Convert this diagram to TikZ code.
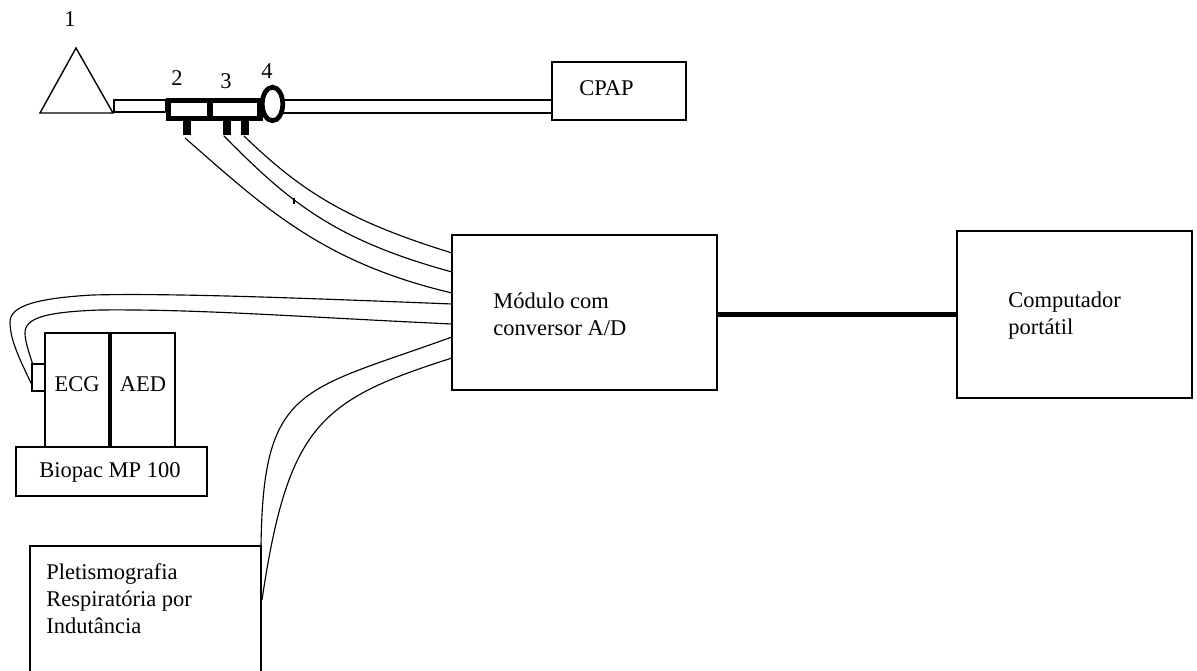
\documentclass[tikz,border=0pt]{standalone}
\usepackage{xcolor}
\usepackage{fontspec}
\setmainfont{Liberation Serif}
\usetikzlibrary{positioning,shapes,calc}

\tikzset{
    caixa/.style={draw, line width=0.9pt, anchor=north west, inner sep=0pt, outer sep=0pt},
    tubo/.style={draw, line width=0.9pt, anchor=north west, inner sep=0pt, outer sep=0pt, fill=white},
    sensor/.style={draw, line width=2.9pt, anchor=north west, inner sep=0pt, outer sep=0pt, fill=white},
    haste/.style={fill=black, anchor=north west, inner sep=0pt, outer sep=0pt},
    fio/.style={line width=0.65pt},
    rotulo/.style={font=\fontsize{12.8}{15.4}\selectfont, align=left, inner sep=0pt}
}

\begin{document}
\begin{tikzpicture}[x=0.02cm, y=-0.02cm]
    \clip (0,0) rectangle (1197,671);
    \useasboundingbox (0,0) rectangle (1197,671);

    % Mask and tube
    \draw[line width=0.8pt, line join=miter] (76,48) -- (113,113) -- (40,113) -- cycle;
    \node[tubo, minimum width=1.04cm, minimum height=0.24cm] (tubo1) at (114,100) {};
    \node[tubo, minimum width=5.4cm, minimum height=0.26cm] (tubo2) at (282,100) {};
    \node[caixa, minimum width=2.68cm, minimum height=1.16cm] (cpap) at (552,62) {};

    % Sensors 2, 3, 4
    \node[sensor, minimum width=0.86cm, minimum height=0.36cm] (sensor2) at (168.5,100.5) {};
    \node[sensor, minimum width=1.0cm, minimum height=0.36cm] (sensor3) at (210,100.5) {};
    \node[ellipse, draw, line width=2.7pt, fill=white, inner sep=0pt, minimum width=0.41cm, minimum height=0.67cm] (anel) at (272.5,104) {};
    \node[haste, minimum width=0.16cm, minimum height=0.32cm] (haste2) at (183,119) {};
    \node[haste, minimum width=0.15cm, minimum height=0.32cm] (haste3) at (223,119) {};
    \node[haste, minimum width=0.16cm, minimum height=0.32cm] (haste4) at (241,119) {};

    % Boxes
    \node[caixa, minimum width=5.3cm, minimum height=3.1cm] (modulo) at (452,235) {};
    \node[caixa, minimum width=4.7cm, minimum height=3.34cm] (computador) at (957,231) {};
    \node[caixa, minimum width=1.3cm, minimum height=2.28cm] (ecg) at (45,333) {};
    \node[caixa, minimum width=1.3cm, minimum height=2.28cm] (aed) at (110,333) {};
    \node[caixa, minimum width=0.26cm, minimum height=0.54cm] (eletrodo) at (32,364) {};
    \node[caixa, minimum width=3.82cm, minimum height=0.98cm] (biopac) at (16,447) {};
    \node[caixa, minimum width=4.62cm, minimum height=2.7cm] (pletismo) at (30,546) {};
    \draw[line width=2pt] (aed.north west) -- (aed.south west);

    % Free ends of the wires
    \coordinate (h2) at (185,138);
    \coordinate (h3) at (224,136);
    \coordinate (h4) at (244,136);
    \coordinate (m1) at (452,253);
    \coordinate (m2) at (452,272);
    \coordinate (m3) at (452,293);
    \coordinate (m4) at (452,304);
    \coordinate (m5) at (452,324);
    \coordinate (m6) at (452,337);
    \coordinate (m7) at (452,358);
    \coordinate (e1) at (32,385);
    \coordinate (e2) at (33,365);
    \coordinate (p1) at (261,547);
    \coordinate (p2) at (262,600);

    % Wires
    \draw[fio] (h2) .. controls (262,205) and (320,262) .. (m3);
    \draw[fio] (h3) .. controls (290,203) and (335,240) .. (m2);
    \draw[fio] (h4) .. controls (300,190) and (345,220) .. (m1);
    \draw[fio] (e1) .. controls (20,360) and (10,340) .. (10,322) .. controls (10,305) and (40,298) .. (93,295) .. controls (170,293) and (300,298) .. (m4);
    \draw[fio] (e2) .. controls (28,350) and (25,340) .. (25,333) .. controls (25,318) and (45,312) .. (100,310) .. controls (200,309) and (300,317) .. (m5);
    \draw[fio] (p1) .. controls (263,385) and (300,392) .. (m6);
    \draw[fio] (p2) .. controls (288,425) and (320,400) .. (m7);
    \draw[line width=2.9pt] (computador.west -| modulo.east) -- (computador.west);

    % Small mark on the wire
    \fill (293,198) rectangle (295,204);

    % Labels
    \node[rotulo] (n1) at (70,19) {1};
    \node[rotulo] (n2) at (177,78) {2};
    \node[rotulo] (n3) at (226,81) {3};
    \node[rotulo] (n4) at (267,71) {4};
    \node[rotulo, anchor=west] (cpap-txt) at (579,88) {CPAP};
    \node[rotulo, anchor=west] (modulo-txt) at (493,314) {Módulo com\\conversor A/D};
    \node[rotulo, anchor=west] (computador-txt) at (1008,316) {Computador\\portátil};
    \node[rotulo] (ecg-txt) at (77,384) {ECG};
    \node[rotulo] (aed-txt) at (143,384) {AED};
    \node[rotulo] (biopac-txt) at (110,472) {Biopac MP 100};
    \node[rotulo, anchor=west] (pletismo-txt) at (46,599) {Pletismografia\\Respiratória por\\Indutância};
\end{tikzpicture}
\end{document}
